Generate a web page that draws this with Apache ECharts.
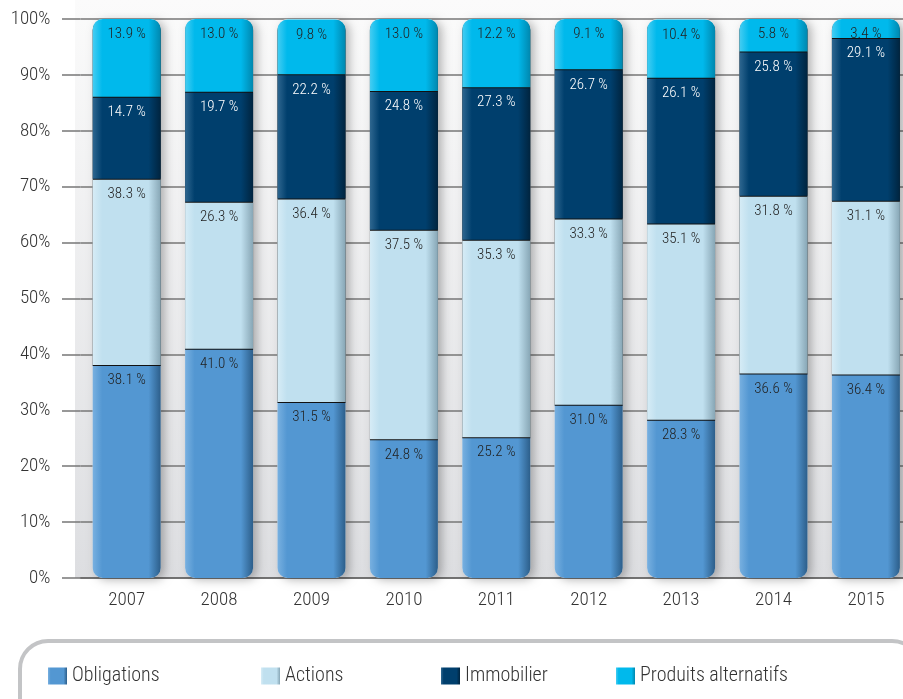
<!DOCTYPE html>
<html>
<head>
<meta charset="utf-8">
<script src="https://cdn.jsdelivr.net/npm/echarts@6/dist/echarts.min.js"></script>
<style>
  html, body { margin: 0; padding: 0; background: #fff; }
  #chart { width: 903px; height: 699px; }
</style>
</head>
<body>
<div id="chart"></div>
<script>
// Données du graphique
const annees = ['2007', '2008', '2009', '2010', '2011', '2012', '2013', '2014', '2015'];
const obligations = [38.1, 41.0, 31.5, 24.8, 25.2, 31.0, 28.3, 36.6, 36.4];
// hauteur des barres Actions (2007 est imprimé 38.3 sur le graphique)
const actions = [33.3, 26.3, 36.4, 37.5, 35.3, 33.3, 35.1, 31.8, 31.1];
const actionsImprime = [38.3, 26.3, 36.4, 37.5, 35.3, 33.3, 35.1, 31.8, 31.1];
const immobilier = [14.7, 19.7, 22.2, 24.8, 27.3, 26.7, 26.1, 25.8, 29.1];
const produits = [13.9, 13.0, 9.8, 13.0, 12.2, 9.1, 10.4, 5.8, 3.4];

const police = "'Roboto Condensed', Roboto, sans-serif";

// dégradé horizontal pour l'effet cylindre
function degrade(clair, base, fonce) {
    return new echarts.graphic.LinearGradient(0, 0, 1, 0, [
        { offset: 0, color: clair },
        { offset: 0.14, color: base },
        { offset: 0.82, color: base },
        { offset: 1, color: fonce }
    ]);
}

function etiquette(couleur, textes) {
    return {
        show: true,
        position: 'insideTop',
        distance: 8,
        fontFamily: police,
        fontWeight: 300,
        fontSize: 15,
        color: couleur,
        formatter: p => (textes ? textes[p.dataIndex] : p.value).toFixed(1) + ' %'
    };
}

// trait noir fin au bas de chaque segment supérieur
const separateur = { shadowColor: '#111', shadowOffsetY: 1, shadowBlur: 0 };

const myChart = echarts.init(document.getElementById('chart'));
myChart.setOption({
    animation: false,
    // le graphique d'origine est coupé à droite
    grid: { left: 80.5, width: 831.6, top: 19, bottom: 121, outerBoundsMode: 'none', containLabel: false },
    graphic: [
        {
            type: 'rect',
            z: -10,
            silent: true,
            shape: { x: 75, y: 0, width: 840, height: 578 },
            style: {
                fill: new echarts.graphic.LinearGradient(0, 0, 0, 1, [
                    { offset: 0, color: '#fbfbfb' },
                    { offset: 1, color: '#dddee1' }
                ])
            }
        },
        {
            type: 'rect',
            silent: true,
            shape: { x: 20, y: 641, width: 900, height: 110, r: 28 },
            style: { fill: 'none', stroke: '#c3c4c6', lineWidth: 4 }
        }
    ],
    legend: [
        ['Obligations', 48],
        ['Actions', 261],
        ['Immobilier', 441],
        ['Produits alternatifs', 616]
    ].map(([nom, x]) => ({
        data: [nom],
        left: x,
        top: 666,
        padding: 0,
        icon: 'rect',
        itemWidth: 19,
        itemHeight: 17,
        itemGap: 5,
        selectedMode: false,
        textStyle: { fontFamily: police, fontWeight: 300, fontSize: 20, color: '#333' }
    })),
    xAxis: {
        type: 'category',
        data: annees,
        axisLine: { show: true, lineStyle: { color: '#666', width: 1.5 } },
        axisTick: { show: false },
        axisLabel: { fontFamily: police, fontWeight: 300, fontSize: 19, color: '#333', margin: 13 }
    },
    yAxis: {
        type: 'value',
        min: 0,
        max: 100,
        interval: 10,
        axisLine: { show: false },
        axisTick: { show: true, length: 18.5, lineStyle: { color: '#777', width: 1.5 } },
        splitLine: { lineStyle: { color: '#777', width: 1.5 } },
        axisLabel: {
            fontFamily: police, fontWeight: 300, fontSize: 19, color: '#333', margin: 30,
            formatter: '{value}%'
        }
    },
    series: [
        {
            name: 'Obligations',
            type: 'bar',
            stack: 'total',
            barWidth: 68,
            data: obligations,
            showBackground: true,
            backgroundStyle: {
                color: '#eee',
                borderRadius: 10,
                shadowColor: 'rgba(0,0,0,0.28)',
                shadowBlur: 10,
                shadowOffsetX: 4,
                shadowOffsetY: 2
            },
            itemStyle: {
                color: degrade('#78b0e0', '#5397d2', '#2c5e8a'),
                borderRadius: [0, 0, 10, 10]
            },
            label: etiquette('#222')
        },
        {
            name: 'Actions',
            type: 'bar',
            stack: 'total',
            barWidth: 68,
            data: actions,
            itemStyle: Object.assign({ color: degrade('#d6ecf6', '#c0e0ef', '#87a6b5') }, separateur),
            label: etiquette('#222', actionsImprime)
        },
        {
            name: 'Immobilier',
            type: 'bar',
            stack: 'total',
            barWidth: 68,
            data: immobilier,
            itemStyle: Object.assign({ color: degrade('#2f6790', '#003f6d', '#00243f') }, separateur),
            label: etiquette('#fff')
        },
        {
            name: 'Produits alternatifs',
            type: 'bar',
            stack: 'total',
            barWidth: 68,
            data: produits,
            itemStyle: Object.assign({
                color: degrade('#45cdf2', '#00b9ec', '#0087ae'),
                borderRadius: [10, 10, 0, 0]
            }, separateur),
            label: etiquette('#222')
        }
    ]
});
</script>
</body>
</html>
